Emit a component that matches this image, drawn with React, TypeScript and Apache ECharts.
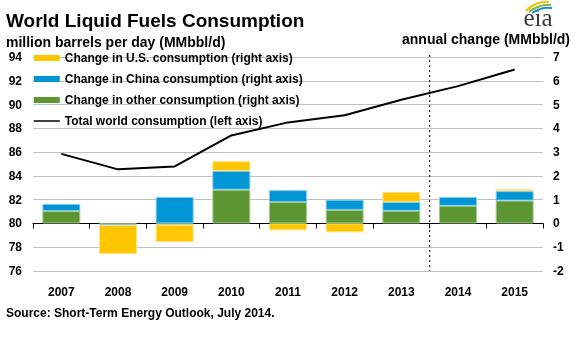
import React, { useEffect, useRef } from "react";
import * as echarts from "echarts";

const years = ["2007", "2008", "2009", "2010", "2011", "2012", "2013", "2014", "2015"];
const usChange = [0, -1.22, -0.73, 0.41, -0.29, -0.37, 0.42, 0, 0.08];
const chinaChange = [0.3, -0.03, 1.11, 0.79, 0.5, 0.43, 0.37, 0.37, 0.4];
const otherChange = [0.52, -0.04, -0.05, 1.42, 0.9, 0.57, 0.53, 0.74, 0.96];
const totalWorld = [85.85, 84.55, 84.8, 87.4, 88.5, 89.1, 90.4, 91.55, 92.95];
const leftTicks = { min: 76, max: 94, interval: 2 };
const rightTicks = { min: -2, max: 7, interval: 1 };
const forecastStart = "2014";
const lastHistory = "2013";

const FONT = "'Liberation Sans', Arial, Helvetica, sans-serif";

export default function App() {
  const ref = useRef<HTMLDivElement>(null);
  useEffect(() => {
    if (!ref.current) return;
    const chart = echarts.init(ref.current, null, { renderer: "svg" });
    const bold = { fontFamily: FONT, fontWeight: "bold" as const, color: "#000", fontSize: 12 };
    const barBase = (name: string, data: number[], color: string, border: string) => ({
      name,
      type: "bar",
      stack: "chg",
      yAxisIndex: 1,
      xAxisIndex: 0,
      data: data.map((v) => (v === 0 ? "-" : v)),
      barCategoryGap: "33%",
      itemStyle: { color, borderColor: border, borderWidth: 1 },
    });
    chart.setOption({
      animation: false,
      grid: { left: 33, right: 33, top: 57, bottom: 69, containLabel: false },
      legend: {
        orient: "vertical",
        left: 28,
        top: 47,
        itemWidth: 26,
        itemHeight: 6,
        itemGap: 9,
        itemStyle: { borderWidth: 0 },
        textStyle: { ...bold, fontSize: 12 },
        data: [
          { name: "Change in U.S. consumption (right axis)", icon: "rect" },
          { name: "Change in China consumption (right axis)", icon: "rect" },
          { name: "Change in other consumption (right axis)", icon: "rect" },
          {
            name: "Total world consumption (left axis)",
            itemStyle: { color: "transparent", borderWidth: 0, opacity: 0 },
            lineStyle: { color: "#000", width: 1.5 },
          },
        ],
      },
      xAxis: [
        {
          type: "category",
          data: years,
          axisLine: { show: true, onZero: true, onZeroAxisIndex: 1, lineStyle: { color: "#000", width: 1 } },
          axisTick: { show: true, length: 5, lineStyle: { color: "#000" } },
          axisLabel: { show: false },
        },
        {
          type: "category",
          data: years,
          position: "bottom",
          axisLine: { show: false, onZero: false },
          axisTick: { show: false },
          axisLabel: { ...bold, margin: 15 },
        },
      ],
      yAxis: [
        {
          type: "value",
          ...leftTicks,
          position: "left",
          axisLine: { show: false },
          axisTick: { show: false },
          axisLabel: { ...bold, margin: 11 },
          splitLine: { show: true, lineStyle: { color: "#c0c0c0", width: 1 } },
        },
        {
          type: "value",
          ...rightTicks,
          position: "right",
          axisLine: { show: false },
          axisTick: { show: false },
          axisLabel: { ...bold, margin: 10 },
          splitLine: { show: false },
        },
      ],
      series: [
        barBase("Change in other consumption (right axis)", otherChange, "#5b9632", "#a7c98e"),
        barBase("Change in China consumption (right axis)", chinaChange, "#0096d6", "#7fcbec"),
        barBase("Change in U.S. consumption (right axis)", usChange, "#ffc600", "#ffe27f"),
        {
          name: "Total world consumption (left axis)",
          type: "line",
          yAxisIndex: 0,
          xAxisIndex: 0,
          data: totalWorld,
          symbol: "none",
          showSymbol: false,
          lineStyle: { color: "#000", width: 2 },
          itemStyle: { color: "#000" },
          z: 5,
        },
      ],
    });

    const xa = chart.convertToPixel({ xAxisIndex: 0 }, lastHistory) as number;
    const xb = chart.convertToPixel({ xAxisIndex: 0 }, forecastStart) as number;
    const xm = (xa + xb) / 2;
    const yTop = chart.convertToPixel({ yAxisIndex: 1 }, rightTicks.max) as number;
    const yBot = chart.convertToPixel({ yAxisIndex: 1 }, rightTicks.min) as number;

    chart.setOption({
      graphic: [
        {
          type: "line",
          shape: { x1: xm, y1: yTop - 2, x2: xm, y2: yBot },
          style: { stroke: "#000", lineWidth: 1, lineDash: [2, 3] },
          z: 10,
        },
        {
          type: "text",
          x: 6,
          y: 20,
          style: { text: "World Liquid Fuels Consumption", font: `bold 19px ${FONT}`, fill: "#000", verticalAlign: "middle" },
        },
        {
          type: "text",
          x: 6,
          y: 42,
          style: { text: "million barrels per day (MMbbl/d)", font: `bold 14px ${FONT}`, fill: "#000", verticalAlign: "middle" },
        },
        {
          type: "text",
          x: 570,
          y: 39,
          style: { text: "annual change (MMbbl/d)", font: `bold 14px ${FONT}`, fill: "#000", align: "right", verticalAlign: "middle" },
        },
        {
          type: "text",
          x: 6,
          y: 313,
          style: { text: "Source: Short-Term Energy Outlook, July 2014.", font: `bold 12px ${FONT}`, fill: "#000", verticalAlign: "middle" },
        },
        {
          type: "text",
          x: 538,
          y: 17,
          style: { text: "eia", font: `25px 'Liberation Serif', 'DejaVu Serif', serif`, fill: "#3a3a3a", align: "center", verticalAlign: "middle" },
        },
        {
          type: "bezierCurve",
          shape: { x1: 526, y1: 11, x2: 549, y2: 2, cpx1: 532, cpy1: 4, cpx2: 542, cpy2: 1 },
          style: { stroke: "#f4c300", lineWidth: 2, fill: "none" },
        },
        {
          type: "bezierCurve",
          shape: { x1: 529, y1: 12, x2: 551, y2: 5, cpx1: 535, cpy1: 7, cpx2: 544, cpy2: 4 },
          style: { stroke: "#7cb342", lineWidth: 2, fill: "none" },
        },
        {
          type: "bezierCurve",
          shape: { x1: 532, y1: 13, x2: 552, y2: 8, cpx1: 538, cpy1: 9, cpx2: 546, cpy2: 7 },
          style: { stroke: "#1a8fd0", lineWidth: 2, fill: "none" },
        },
      ],
    });

    return () => chart.dispose();
  }, []);
  return <div ref={ref} style={{ position: "fixed", left: 0, top: 0, width: 576, height: 340 }} />;
}
